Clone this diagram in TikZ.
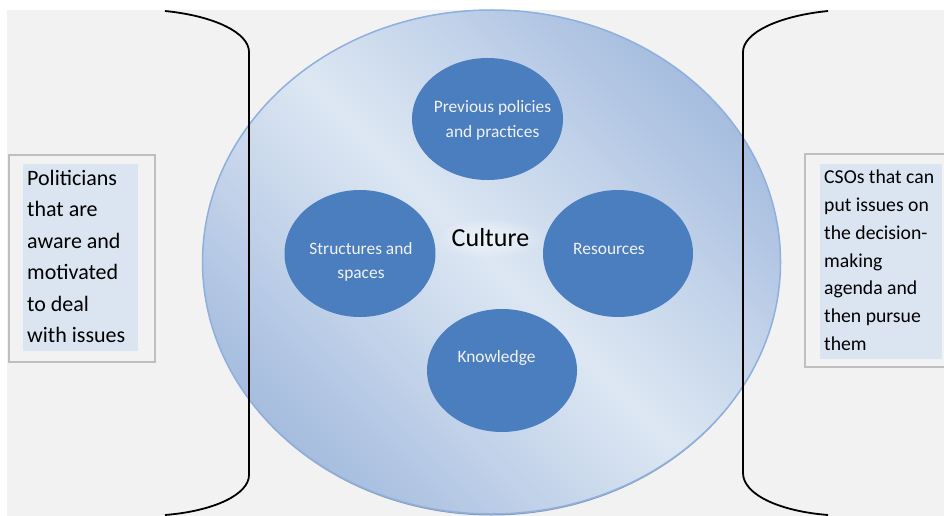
\documentclass[tikz,border=0pt]{standalone}
\usepackage{fontspec}
\setmainfont{Carlito}
\usetikzlibrary{shapes.geometric,fadings}
\definecolor{bgc}{HTML}{F2F2F2}
\definecolor{boxfill}{HTML}{DBE5F1}
\definecolor{boxline}{HTML}{BFBFBF}
\definecolor{smallfill}{HTML}{4A7EBF}
\definecolor{bigline}{HTML}{8DB0DE}
\definecolor{bigdark}{HTML}{A6BDDF}
\definecolor{biglight}{HTML}{DDE7F3}
\definecolor{shadowc}{HTML}{8C9AB0}
\definecolor{smalltext}{HTML}{F2F2F2}
\pgfdeclarehorizontalshading{bigshade}{100bp}{color(0bp)=(bigdark); color(25bp)=(bigdark); color(50bp)=(biglight); color(75bp)=(bigdark); color(100bp)=(bigdark)}
\tikzfading[name=glowfade, inner color=transparent!0, outer color=transparent!100]
\begin{document}
\begin{tikzpicture}[x=1pt,y=-1pt,
  smallell/.style={ellipse, fill=smallfill, inner sep=0pt},
  smalllab/.style={text=smalltext, inner sep=0pt, anchor=base, font=\fontsize{17.4}{24.5}\selectfont},
  outerbox/.style={draw=boxline, line width=1.5pt, fill=bgc, anchor=north west, inner sep=0pt},
  innerbox/.style={fill=boxfill, anchor=north west, inner sep=0pt},
  bracket/.style={draw=black, line width=1.8pt}]
\useasboundingbox (0,0) rectangle (944,516);
\fill[white] (0,0) rectangle (944,516);
\fill[bgc] (7,10) rectangle (944,516);
% big culture ellipse
\fill[shadowc] (491.5,264.5) ellipse [x radius=288, y radius=251];
\path[shading=bigshade, shading angle=45, draw=bigline, line width=1.5pt] (491.5,262) ellipse [x radius=289, y radius=252];
\fill[white, opacity=0.6, path fading=glowfade] (490,238) ellipse [x radius=56, y radius=20];
\node[anchor=base, inner sep=0pt, font=\fontsize{26}{30}\selectfont] (culture) at (490.5,246) {Culture};
% small ellipses
\node[smallell, minimum width=151pt, minimum height=122pt] (prev) at (487.5,119) {};
\node[smallell, minimum width=151pt, minimum height=127pt] (struct) at (360,253.5) {};
\node[smallell, minimum width=150pt, minimum height=127pt] (res) at (618,253.5) {};
\node[smallell, minimum width=150pt, minimum height=123pt] (know) at (502,370.5) {};
\node[smalllab] (tprev) at (492.5,113) {\begin{tabular}[t]{@{}c@{}}Previous policies\\and practices\end{tabular}};
\node[smalllab] (tstruct) at (361,254) {\begin{tabular}[t]{@{}c@{}}Structures and\\spaces\end{tabular}};
\node[smalllab] (tres) at (609,254) {Resources};
\node[smalllab] (tknow) at (496.5,362) {Knowledge};
% brackets
\draw[bracket] (165,11) .. controls (215,16) and (249,33) .. (249,52) -- (249,475) .. controls (249,494) and (215,511) .. (165,515);
\draw[bracket] (828,11) .. controls (778,16) and (743,33) .. (743,52) -- (743,473) .. controls (743,494) and (778,511) .. (828,515);
% side boxes
\node[outerbox, minimum width=146pt, minimum height=207pt] (lbox) at (8,154) {};
\node[innerbox, minimum width=115pt, minimum height=187pt] (linner) at (23,164) {};
\node[anchor=base west, inner sep=0pt, font=\fontsize{22}{31.5}\selectfont] (ltext) at (27,185) {\begin{tabular}[t]{@{}l@{}}Politicians\\that are\\aware and\\motivated\\to deal\\with issues\end{tabular}};
\node[outerbox, minimum width=150pt, minimum height=213pt] (rbox) at (804,153) {};
\node[innerbox, minimum width=122pt, minimum height=195pt] (rinner) at (820,164) {};
\node[anchor=base west, inner sep=0pt, font=\fontsize{19.7}{27.9}\selectfont] (rtext) at (824,183.3) {\begin{tabular}[t]{@{}l@{}}CSOs that can\\put issues on\\the decision-\\making\\agenda and\\then pursue\\them\end{tabular}};
\end{tikzpicture}
\end{document}
